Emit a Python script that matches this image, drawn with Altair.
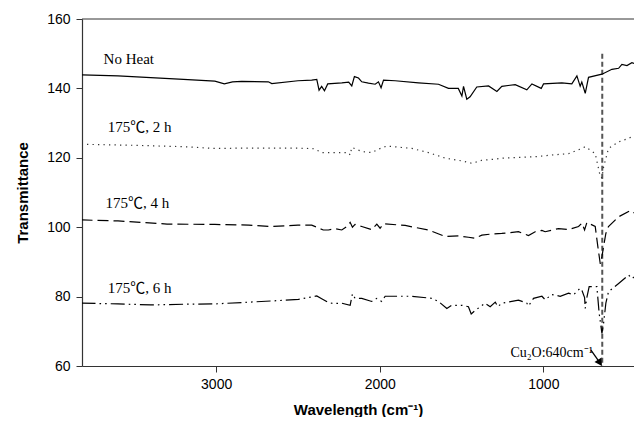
import altair as alt
import pandas as pd

# ---- data (wavenumber cm-1, transmittance) ----
nh_w = [3823, 3600, 3400, 3200, 3008, 2950, 2900, 2844, 2681, 2660, 2500, 2416, 2385, 2371, 2355,
        2338, 2318, 2232, 2190, 2171, 2155, 2130, 2110, 2069, 2028, 2008, 1992, 1977, 1906, 1763,
        1641, 1580, 1520, 1498, 1488, 1468, 1448, 1407, 1335, 1284, 1254, 1172, 1101, 1070, 1013,
        999, 887, 826, 795, 775, 765, 744, 724, 642, 581, 540, 520, 489, 459, 428, 398]
nh_t = [143.9, 143.6, 143.1, 142.6, 142.1, 141.3, 141.9, 142.0, 141.9, 141.4, 142.2, 142.4, 142.6, 139.5, 140.6,
        139.3, 141.3, 141.6, 141.8, 140.7, 143.4, 143.0, 141.9, 141.5, 141.2, 141.9, 140.2, 142.4, 142.2, 141.6,
        141.2, 140.0, 140.0, 137.8, 140.6, 136.9, 137.6, 140.4, 140.7, 139.1, 140.6, 141.1, 139.6, 141.3, 140.0,
        141.3, 141.6, 141.3, 143.6, 140.6, 141.8, 138.6, 143.2, 144.1, 145.5, 145.8, 146.9, 146.6, 147.4, 146.9, 143.6]

h2_w = [3823, 3500, 3200, 3008, 2800, 2500, 2400, 2355, 2250, 2191, 2181, 2171, 2110, 2049, 2008,
        1957, 1804, 1702, 1600, 1498, 1437, 1376, 1294, 1254, 1050, 948, 846, 765, 744, 683,
        652, 642, 632, 602, 540, 479, 438, 408, 398]
h2_t = [123.9, 123.6, 123.2, 122.7, 122.8, 122.8, 122.6, 121.5, 121.5, 121.5, 120.8, 123.0, 121.8, 121.5, 122.5,
        123.4, 122.7, 121.5, 119.9, 119.1, 118.4, 119.3, 119.6, 119.9, 120.3, 120.8, 121.2, 122.7, 123.2, 121.2,
        114.6, 114.2, 117.3, 122.7, 124.6, 125.6, 126.6, 126.1, 125.0]

h4_w = [3823, 3600, 3300, 3008, 2800, 2660, 2500, 2416, 2345, 2314, 2273, 2232, 2201, 2181, 2167,
        2151, 2110, 2049, 2018, 1998, 1977, 1845, 1702, 1600, 1519, 1458, 1417, 1376, 1325, 1254,
        1152, 1091, 1050, 1009, 989, 907, 846, 785, 764, 748, 734, 683, 667, 652, 642,
        632, 618, 602, 540, 469, 448, 418, 398]
h4_t = [102.1, 101.8, 100.9, 100.8, 100.6, 100.2, 100.6, 100.6, 99.2, 99.2, 99.6, 99.2, 100.2, 101.4, 100.0,
        100.8, 100.2, 99.3, 100.9, 99.7, 101.0, 100.5, 99.2, 97.3, 97.5, 97.1, 96.8, 97.7, 98.0, 98.2,
        98.7, 97.6, 98.7, 99.1, 98.7, 99.6, 99.3, 100.2, 101.2, 99.2, 101.4, 100.2, 94.4, 89.4, 91.5,
        94.4, 98.2, 100.2, 103.0, 104.8, 104.2, 104.5, 103.6]

h6_w = [3823, 3600, 3400, 3200, 3008, 2800, 2600, 2497, 2385, 2355, 2314, 2283, 2232, 2181, 2167,
        2151, 2110, 2049, 2018, 1988, 1967, 1804, 1682, 1641, 1590, 1560, 1498, 1458, 1441, 1417,
        1356, 1325, 1294, 1278, 1254, 1152, 1101, 1091, 1060, 1009, 989, 948, 897, 846, 816,
        775, 765, 748, 744, 734, 720, 673, 659, 642, 632, 618, 602, 540, 479, 459, 428, 408, 398]
h6_t = [78.1, 77.9, 77.6, 77.8, 77.9, 78.4, 78.9, 79.2, 80.2, 79.4, 78.3, 78.0, 78.1, 77.5, 80.8,
        79.5, 79.5, 78.6, 79.5, 78.6, 80.1, 80.1, 79.5, 78.6, 76.6, 77.5, 77.5, 77.1, 75.0, 76.0,
        78.1, 77.1, 78.4, 77.1, 78.1, 79.0, 78.1, 77.3, 79.5, 80.1, 79.1, 80.6, 80.1, 81.0, 80.5,
        82.4, 81.9, 79.7, 76.6, 79.8, 82.9, 82.9, 75.2, 69.4, 72.3, 78.1, 81.4, 83.8, 86.2, 85.2, 86.2, 85.7, 84.9]

label_text = ["No Heat", "175℃, 2 h", "175℃, 4 h", "175℃, 6 h"]
label_w = [3688, 3663, 3676, 3663]
label_t = [148.5, 128.9, 107.0, 82.5]

peak_w = [640]
peak_top = [150]
peak_bottom = [60]
note_text = ["Cu₂O:640cm⁻¹"]
note_w = [697]
note_t = [63.7]
arrow_w = [709]
arrow_t = [64.6]
arrow_w2 = [655]
arrow_t2 = [61.0]
head_w = [658]
head_t = [61.2]

x_ticks = [1000, 2000, 3000]
y_ticks = [60, 80, 100, 120, 140, 160]

SERIF = "Times New Roman, Liberation Serif, Noto Sans CJK SC, serif"
SANS = "Arial, Liberation Sans, sans-serif"

xscale = alt.Scale(domain=[446, 3820], reverse=True, nice=False, zero=False)
yscale = alt.Scale(domain=[60, 160], nice=False, zero=False)
xaxis = alt.Axis(values=x_ticks, format="d", title="Wavelength (cm⁻¹)", grid=False,
                 titleY=43, titleBaseline="middle", labelPadding=5)
yaxis = alt.Axis(values=y_ticks, format="d", title="Transmittance", grid=False,
                 titleX=-60, titleY=173.5, titleBaseline="middle", titleAlign="center", labelPadding=6)


def X(f="w"):
    return alt.X(f"{f}:Q", scale=xscale, axis=xaxis)


def Y(f="t"):
    return alt.Y(f"{f}:Q", scale=yscale, axis=yaxis)


def line(w, t, dash, color="black", width=1.2):
    df = pd.DataFrame({"w": w, "t": t})
    kw = dict(color=color, strokeWidth=width, clip=True)
    if dash:
        kw["strokeDash"] = dash
    return alt.Chart(df).mark_line(**kw).encode(x=X(), y=Y())


l_nh = line(nh_w, nh_t, None)
l_2h = line(h2_w, h2_t, [1.3, 4.2], color="#333333", width=1.2)
l_4h = line(h4_w, h4_t, [11, 5])
l_6h = line(h6_w, h6_t, [14, 4, 1.6, 4, 1.6, 4])

top = alt.Chart(pd.DataFrame({"t": [160]})).mark_rule(color="#333333", strokeWidth=1).encode(y=Y())

peak = alt.Chart(pd.DataFrame({"w": peak_w, "t": peak_top, "t2": peak_bottom})).mark_rule(
    color="#555555", strokeWidth=2, strokeDash=[5, 3]).encode(x=X(), y=Y(), y2="t2:Q")

labels = alt.Chart(pd.DataFrame({"w": label_w, "t": label_t, "s": label_text})).mark_text(
    align="left", baseline="middle", font=SERIF, fontSize=15, color="black").encode(
    x=X(), y=Y(), text="s:N")

note = alt.Chart(pd.DataFrame({"w": note_w, "t": note_t, "s": note_text})).mark_text(
    align="right", baseline="middle", font=SERIF, fontSize=14, color="black").encode(
    x=X(), y=Y(), text="s:N")

arrow = alt.Chart(pd.DataFrame({"w": arrow_w, "t": arrow_t, "w2": arrow_w2, "t2": arrow_t2})).mark_rule(
    color="black", strokeWidth=1.3).encode(x=X(), y=Y(), x2="w2:Q", y2="t2:Q")

head = alt.Chart(pd.DataFrame({"w": head_w, "t": head_t})).mark_point(
    shape="triangle", filled=True, color="black", size=70, angle=147, opacity=1).encode(x=X(), y=Y())

chart = alt.layer(top, peak, l_nh, l_2h, l_4h, l_6h, labels, note, arrow, head).properties(
    width=552, height=347,
    autosize=alt.AutoSizeParams(type="none"),
    padding={"left": 74, "top": 11, "right": 0, "bottom": 51},
).configure_view(stroke=None).configure_axis(
    domainColor="#333333", tickColor="#333333", tickSize=6, domainWidth=1.2,
    labelFont=SANS, labelFontSize=14, labelColor="black",
    titleFont=SANS, titleFontSize=15, titleFontWeight="bold", titleColor="black",
)

chart.save("out.html", embed_options={"renderer": "svg", "actions": False})
